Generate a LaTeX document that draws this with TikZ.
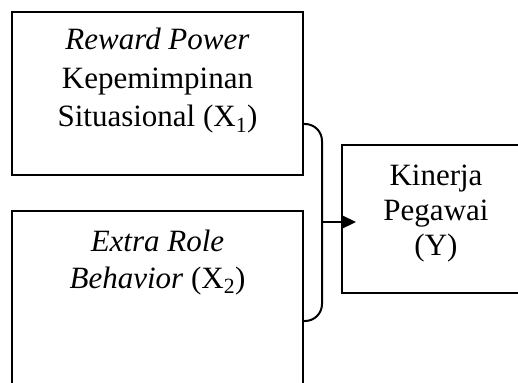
\documentclass[tikz,border=0pt]{standalone}
\usepackage{fontspec}
\setmainfont{Liberation Serif}
\usetikzlibrary{arrows.meta}
\begin{document}
\begin{tikzpicture}[x=1pt,y=-1pt,
  boxstyle/.style={draw=black,line width=1.5pt},
  label/.style={inner sep=0pt,align=center,anchor=base,font=\fontsize{31}{38.5}\selectfont},
  bracket/.style={draw=black,line width=2pt,rounded corners=17pt},
  arrowline/.style={draw=black,line width=2pt,-{Triangle[length=15pt,width=14pt]}}]
\useasboundingbox (0,0) rectangle (518,382);
\clip (0,0) rectangle (518,382);
\fill[white] (0,0) rectangle (518,382);
% boxes
\draw[boxstyle] (12,12) rectangle (303,175);
\node[inner sep=0pt,minimum width=291pt,minimum height=163pt] (b1) at (157.5,93.5) {};
\draw[boxstyle] (12,211) rectangle (303,420);
\node[inner sep=0pt,minimum width=291pt,minimum height=209pt] (b2) at (157.5,315.5) {};
\draw[boxstyle] (342,145) rectangle (530,293);
\node[inner sep=0pt,minimum width=188pt,minimum height=148pt] (b3) at (436,219) {};
% texts (anchored at the baseline of the last line)
\node[label] (t1) at (157.5,127) {\textit{Reward Power}\\Kepemimpinan\\Situasional (X\textsubscript{1})};
\node[label,font=\fontsize{31}{37}\selectfont] (t2) at (157.5,288) {\textit{Extra Role}\\\textit{Behavior} (X\textsubscript{2})};
\node[label,font=\fontsize{31}{35}\selectfont] (t3) at (436,255) {Kinerja\\Pegawai\\(Y)};
% bracket
\coordinate (s1) at (303,124);
\coordinate (s2) at (303,321);
\coordinate (m) at (322,222);
\coordinate (tip) at (356,222);
\draw[bracket] (s1) -- (322,124) -- (322,321) -- (s2);
\draw[arrowline] (m) -- (tip);
\end{tikzpicture}
\end{document}
